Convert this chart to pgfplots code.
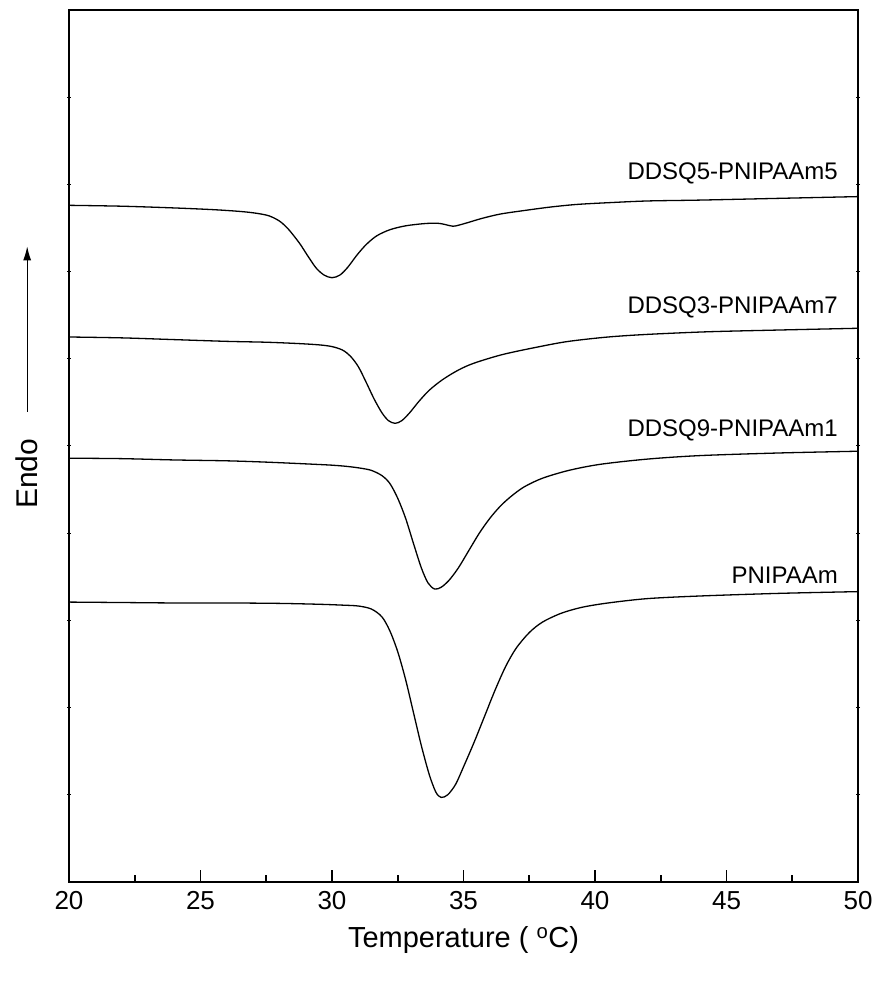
\documentclass[border=0pt]{standalone}
\usepackage{fontspec}
\setmainfont{Liberation Sans}
\usepackage{pgfplots}
\usetikzlibrary{arrows.meta}
\pgfplotsset{compat=1.18}
\begin{document}
\begin{tikzpicture}
\begin{axis}[name=ax,
  scale only axis, width=789pt, height=872pt,
  xmin=20, xmax=50, ymin=0, ymax=10,
  xtick={20,25,...,50}, minor xtick={22.5,27.5,...,47.5},
  ytick=\empty,
  xtick pos=bottom,
  tick align=inside,
  major tick length=12pt, minor tick length=7pt,
  tick style={line width=1.6pt, black},
  axis line style={line width=1.8pt},
  every tick label/.style={font=\fontsize{26}{31}\selectfont},
  /pgf/number format/assume math mode=true,
  xticklabel style={yshift=-6pt},
  xlabel={Temperature ( \textsuperscript{o}C)},
  xlabel style={font=\fontsize{29}{35}\selectfont, yshift=-10pt},
  clip=false,
]
\addplot[only marks, mark=-, mark size=2pt, mark options={line width=1pt}] coordinates {
(20,1) (20,2) (20,3) (20,4) (20,5) (20,6) (20,7) (20,8) (20,9)
(50,1) (50,2) (50,3) (50,4) (50,5) (50,6) (50,7) (50,8) (50,9)
};
\addplot[black, line width=1.3pt, smooth, tension=0.5] coordinates {
(20,7.76) (22,7.75) (24,7.73) (25.5,7.71) (26.5,7.69) (27.1,7.67) (27.6,7.64) (28.0,7.58) (28.3,7.50) (28.55,7.41) (28.8,7.31) (29.1,7.17) (29.4,7.04) (29.7,6.96) (30.0,6.93) (30.3,6.96) (30.6,7.05) (30.95,7.19) (31.3,7.31) (31.7,7.41) (32.2,7.48) (32.8,7.525) (33.5,7.55) (34.0,7.555) (34.3,7.54) (34.6,7.52) (34.85,7.535) (35.2,7.565) (35.7,7.61) (36.4,7.66) (37.3,7.70) (38.3,7.74) (39.3,7.77) (40.5,7.79) (42,7.81) (44,7.82) (47,7.84) (50,7.86)
};
\addplot[black, line width=1.3pt, smooth, tension=0.5] coordinates {
(20,6.25) (22,6.24) (24,6.22) (26,6.20) (27.5,6.19) (28.7,6.175) (29.5,6.16) (30.0,6.14) (30.4,6.10) (30.7,6.03) (31.0,5.91) (31.3,5.73) (31.6,5.54) (31.9,5.38) (32.15,5.29) (32.4,5.26) (32.65,5.29) (32.95,5.38) (33.3,5.51) (33.7,5.64) (34.2,5.76) (34.8,5.87) (35.4,5.95) (36.5,6.05) (37.9,6.14) (39,6.20) (40.5,6.25) (42,6.28) (44.3,6.31) (47,6.33) (50,6.35)
};
\addplot[black, line width=1.3pt, smooth, tension=0.5] coordinates {
(20,4.86) (22,4.855) (24,4.84) (26,4.83) (27.5,4.815) (29,4.795) (30.0,4.78) (30.6,4.765) (31.1,4.745) (31.5,4.72) (31.9,4.66) (32.2,4.57) (32.5,4.40) (32.8,4.17) (33.1,3.88) (33.4,3.60) (33.65,3.43) (33.9,3.36) (34.15,3.38) (34.45,3.46) (34.8,3.60) (35.2,3.80) (35.6,4.00) (36.0,4.17) (36.4,4.31) (36.8,4.42) (37.3,4.53) (38.0,4.63) (39,4.72) (40.2,4.79) (42,4.85) (44,4.89) (47,4.92) (50,4.94)
};
\addplot[black, line width=1.3pt, smooth, tension=0.5] coordinates {
(20,3.21) (22,3.205) (24,3.20) (26,3.20) (28,3.195) (29.5,3.185) (30.4,3.175) (31.0,3.165) (31.5,3.13) (31.9,3.04) (32.2,2.88) (32.5,2.64) (32.8,2.32) (33.1,1.94) (33.4,1.56) (33.7,1.23) (33.95,1.03) (34.15,0.97) (34.4,1.00) (34.7,1.12) (35.0,1.32) (35.4,1.60) (35.8,1.90) (36.2,2.20) (36.6,2.47) (37.0,2.68) (37.5,2.86) (38.0,2.98) (38.7,3.08) (39.5,3.15) (40.5,3.20) (42,3.25) (44,3.28) (47,3.31) (50,3.33)
};
\node[anchor=east, font=\fontsize{24}{29}\selectfont, inner sep=0pt] at (axis cs:49.24,8.13) {DDSQ5-PNIPAAm5};
\node[anchor=east, font=\fontsize{24}{29}\selectfont, inner sep=0pt] at (axis cs:49.24,6.59) {DDSQ3-PNIPAAm7};
\node[anchor=east, font=\fontsize{24}{29}\selectfont, inner sep=0pt] at (axis cs:49.24,5.18) {DDSQ9-PNIPAAm1};
\node[anchor=east, font=\fontsize{24}{29}\selectfont, inner sep=0pt] at (axis cs:49.24,3.52) {PNIPAAm};
\node[rotate=90, font=\fontsize{30}{36}\selectfont, inner sep=0pt] at (rel axis cs:-0.053,0.468) {Endo};
\draw[-{Latex[length=14pt,width=8pt]}, line width=1.1pt] (rel axis cs:-0.053,0.539) -- (rel axis cs:-0.053,0.729);
\end{axis}
\path ([xshift=-69pt,yshift=-103pt]ax.south west) rectangle ([xshift=20pt,yshift=10pt]ax.north east);
\end{tikzpicture}
\end{document}
